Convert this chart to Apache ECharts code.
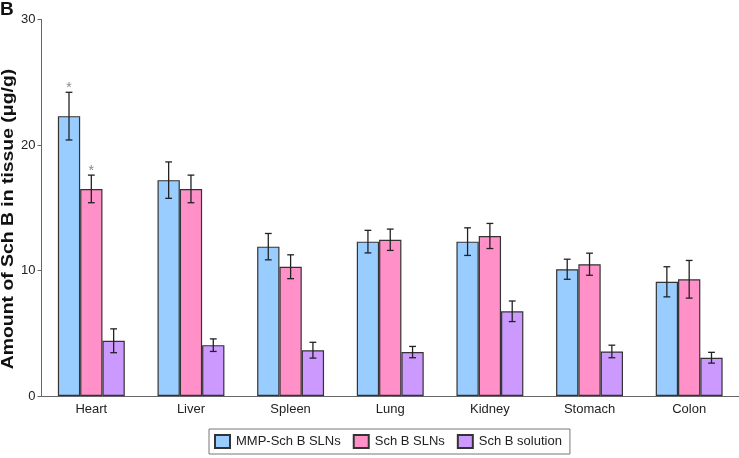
<!DOCTYPE html>
<html>
<head>
<meta charset="utf-8">
<script src="https://cdn.jsdelivr.net/npm/echarts@6/dist/echarts.min.js"></script>
<style>html,body{margin:0;padding:0;background:#fff}#c{width:739px;height:458px}</style>
</head>
<body>
<div id="c"></div>
<script>
var categories = ['Heart','Liver','Spleen','Lung','Kidney','Stomach','Colon'];
var seriesNames = ['MMP-Sch B SLNs','Sch B SLNs','Sch B solution'];
var mmpMean = [22.3, 17.2, 11.9, 12.3, 12.3, 10.1, 9.1];
var mmpErr  = [1.9, 1.45, 1.05, 0.9, 1.1, 0.8, 1.2];
var slnMean = [16.5, 16.5, 10.3, 12.45, 12.75, 10.5, 9.3];
var slnErr  = [1.1, 1.1, 0.95, 0.85, 1.0, 0.88, 1.5];
var solMean = [4.4, 4.05, 3.65, 3.5, 6.75, 3.55, 3.05];
var solErr  = [0.95, 0.5, 0.63, 0.45, 0.82, 0.5, 0.43];
var mmpSig = [1,0,0,0,0,0,0];
var slnSig = [1,0,0,0,0,0,0];
var solSig = [0,0,0,0,0,0,0];
var yTicks = [0, 10, 20, 30];

var colors = ['#99ccff', '#ff91c8', '#cc99ff'];
var means = [mmpMean, slnMean, solMean];
var errs = [mmpErr, slnErr, solErr];
var sigs = [mmpSig, slnSig, solSig];
var BAR_FRAC = 0.224;

function errSeries(k) {
  var data = categories.map(function (c, i) {
    return [i, means[k][i] - errs[k][i], means[k][i] + errs[k][i], sigs[k][i]];
  });
  return {
    type: 'custom',
    name: seriesNames[k] + ' err',
    silent: true,
    z: 5,
    data: data,
    renderItem: function (params, api) {
      var band = api.size([1, 0])[0];
      var off = (k - 1) * band * BAR_FRAC;
      var lo = api.coord([api.value(0), api.value(1)]);
      var hi = api.coord([api.value(0), api.value(2)]);
      var x = lo[0] + off;
      var cap = 3.4;
      var st = { stroke: '#222', lineWidth: 1.3 };
      var children = [
        { type: 'line', shape: { x1: x, y1: lo[1], x2: x, y2: hi[1] }, style: st },
        { type: 'line', shape: { x1: x - cap, y1: lo[1], x2: x + cap, y2: lo[1] }, style: st },
        { type: 'line', shape: { x1: x - cap, y1: hi[1], x2: x + cap, y2: hi[1] }, style: st }
      ];
      if (api.value(3)) {
        children.push({ type: 'text', style: { text: '*', x: x, y: hi[1] - 4, textAlign: 'center', textVerticalAlign: 'middle', fill: '#888', font: '14px "Liberation Sans", Arial, sans-serif' } });
      }
      return { type: 'group', children: children };
    }
  };
}

var barSeries = seriesNames.map(function (n, k) {
  return {
    type: 'bar',
    name: n,
    data: means[k],
    barWidth: 22.3,
    barGap: '0%',
    itemStyle: { color: colors[k], borderColor: '#333', borderWidth: 1.2 }
  };
});

var chart = echarts.init(document.getElementById('c'), null, { renderer: 'canvas' });
chart.setOption({
  animation: false,
  backgroundColor: '#fff',
  textStyle: { fontFamily: '"Liberation Sans", Arial, sans-serif' },
  grid: { left: 41.5, right: 0, top: 19.5, bottom: 62, containLabel: false },
  legend: {
    data: seriesNames,
    left: 209,
    top: 429,
    orient: 'horizontal',
    itemWidth: 15,
    itemHeight: 13,
    itemGap: 12,
    padding: [5, 8, 5, 5],
    borderColor: '#777',
    borderWidth: 1,
    icon: 'rect',
    textStyle: { fontSize: 13, color: '#222', padding: [0, 0, 0, 1] }
  },
  xAxis: {
    type: 'category',
    data: categories,
    axisLine: { lineStyle: { color: '#666', width: 1 } },
    axisTick: { inside: true, length: 4, lineStyle: { color: '#888' } },
    axisLabel: { fontSize: 13, color: '#222', margin: 7 },
    splitLine: { show: false }
  },
  yAxis: {
    type: 'value',
    min: yTicks[0],
    max: yTicks[yTicks.length - 1],
    interval: 10,
    axisLine: { show: true, lineStyle: { color: '#666', width: 1 } },
    axisTick: { show: true, length: 4, lineStyle: { color: '#666' } },
    axisLabel: { fontSize: 13, color: '#222', margin: 6 },
    splitLine: { show: false }
  },
  graphic: [
    { type: 'text', left: 0, top: 0, style: { text: 'B', font: 'bold 19px "Liberation Sans", Arial, sans-serif', fill: '#111' } },
    { type: 'text', x: 8.5, y: 219, rotation: Math.PI / 2, scaleX: 1.14, style: { text: 'Amount of Sch B in tissue (\u03bcg/g)', font: 'bold 17px "Liberation Sans", Arial, sans-serif', fill: '#111', textAlign: 'center', textVerticalAlign: 'middle' } }
  ],
  series: barSeries.concat([errSeries(0), errSeries(1), errSeries(2)])
});
</script>
</body>
</html>
